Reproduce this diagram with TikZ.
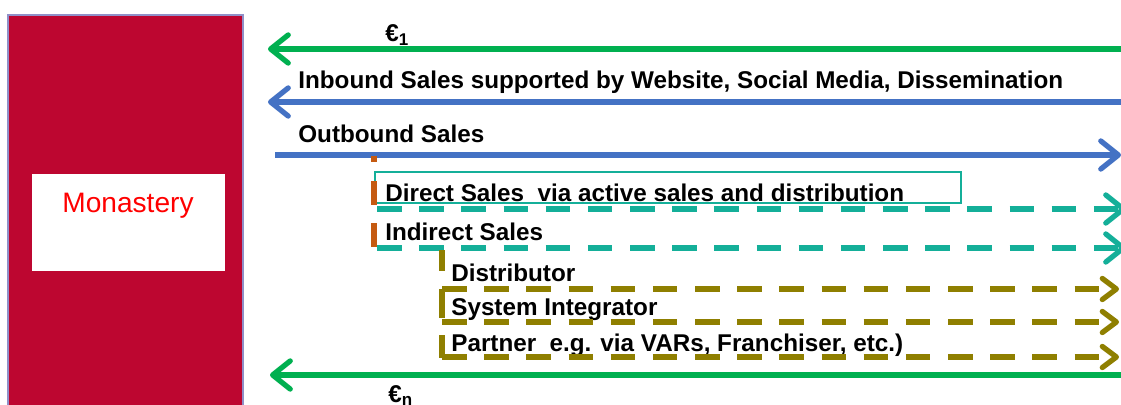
\documentclass[tikz,border=0pt]{standalone}
\usepackage{fontspec}
\setmainfont{Liberation Sans}
\usetikzlibrary{arrows.meta}
\definecolor{monred}{HTML}{BD0630}
\definecolor{monedge}{HTML}{9090C8}
\definecolor{cashgreen}{HTML}{00B050}
\definecolor{salesblue}{HTML}{4472C4}
\definecolor{directteal}{HTML}{14AF99}
\definecolor{partnerolive}{HTML}{8F7F00}
\definecolor{tickorange}{HTML}{C55A11}
\begin{document}
\begin{tikzpicture}[x=0.02cm, y=-0.02cm,
  salestext/.style={anchor=base west, inner sep=0pt, font=\bfseries\fontsize{13.8}{16}\selectfont},
  flow/.style={line width=3pt, -{Straight Barb[length=10pt, width=16pt, line cap=round, line join=round]}},
  dashflow/.style={flow, dash pattern=on 14pt off 10pt},
  oliveflow/.style={dashflow, -{Straight Barb[length=8pt, width=12pt, line cap=round, line join=round]}},
  tick/.style={line width=3.2pt}]
  \useasboundingbox (0,0) rectangle (1121,405);
  \clip (0,0) rectangle (1121,405);
  % Monastery
  \fill[monred, draw=monedge, line width=0.6pt] (8,15) rectangle (243,430);
  \node[fill=white, inner sep=0pt, minimum width=193*0.02cm, minimum height=97*0.02cm, anchor=north west] (monbox) at (32,174) {};
  \node[anchor=base, inner sep=0pt, text=red, font=\fontsize{16}{18}\selectfont] (monlbl) at (128,213) {Monastery};
  % Texts
  \node[salestext] (eurofirst) at (385,42) {€\textsubscript{1}};
  \node[salestext] (inbound) at (298,89) {Inbound Sales supported by Website, Social Media, Dissemination};
  \node[salestext] (outbound) at (298,143) {Outbound Sales};
  \node[salestext] (direct) at (385,201) {Direct Sales\ \ via active sales and distribution};
  \node[salestext] (indirect) at (385,240) {Indirect Sales};
  \node[salestext] (distributor) at (451,281) {Distributor};
  \node[salestext] (integrator) at (451,315) {System Integrator};
  \node[salestext] (partner) at (451,351) {Partner\ \ e.g. via VARs, Franchiser, etc.)};
  \node[salestext] (eurolast) at (388,402) {€\textsubscript{n}};
  % End points
  \coordinate (gtopR) at (1125,49);  \coordinate (gtopL) at (268,49);
  \coordinate (binR) at (1125,102);  \coordinate (binL) at (268,102);
  \coordinate (boutL) at (275,155);  \coordinate (boutR) at (1121,155);
  \coordinate (tdirL) at (377,209);  \coordinate (tdirR) at (1126,209);
  \coordinate (tindL) at (377,248);  \coordinate (tindR) at (1126,248);
  \coordinate (odisL) at (442,289);  \coordinate (odisR) at (1119,289);
  \coordinate (ointL) at (442,322);  \coordinate (ointR) at (1119,322);
  \coordinate (oparL) at (442,357);  \coordinate (oparR) at (1119,357);
  \coordinate (gbotR) at (1125,375); \coordinate (gbotL) at (270,375);
  % Lines
  \draw[flow, cashgreen] (gtopR) -- (gtopL);
  \draw[flow, salesblue] (binR) -- (binL);
  \draw[flow, salesblue] (boutL) -- (boutR);
  \draw[directteal, line width=0.8pt] (375,172) rectangle (961,203);
  \draw[dashflow, directteal] (tdirL) -- (tdirR);
  \draw[dashflow, directteal] (tindL) -- (tindR);
  \draw[oliveflow, partnerolive] (odisL) -- (odisR);
  \draw[oliveflow, partnerolive] (ointL) -- (ointR);
  \draw[oliveflow, partnerolive] (oparL) -- (oparR);
  \draw[flow, cashgreen] (gbotR) -- (gbotL);
  % Ticks
  \draw[tick, tickorange] (374,156) -- (374,162);
  \draw[tick, tickorange] (374,181) -- (374,205);
  \draw[tick, tickorange] (374,223) -- (374,247);
  \draw[tick, partnerolive] (442,250) -- (442,271);
  \draw[tick, partnerolive] (442,289) -- (442,318);
  \draw[tick, partnerolive] (442,335) -- (442,358);
\end{tikzpicture}
\end{document}
